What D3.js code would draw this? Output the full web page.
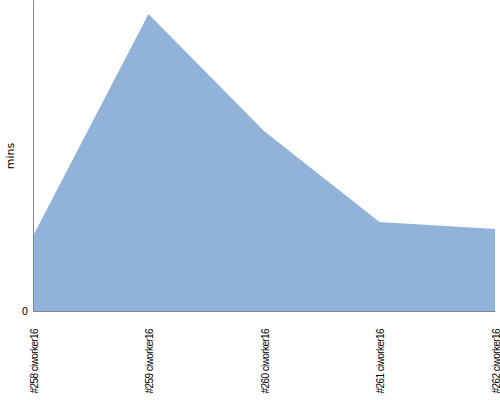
<!DOCTYPE html>
<html><head><meta charset="utf-8">
<script src="https://cdn.jsdelivr.net/npm/d3@7"></script>
<style>body{margin:0;background:#fff}svg{display:block}</style>
</head><body>
<svg id="c" width="500" height="400"></svg>
<script>
const categories = ["#258 ciworker16","#259 ciworker16","#260 ciworker16","#261 ciworker16","#262 ciworker16"];
const values = [7.5, 29.7, 18.0, 8.9, 8.2];
const yTicks = [0];
const yMax = 31.1;

const svg = d3.select("#c");
const m = {l:33, r:5, t:0, b:89};
const W = 500 - m.l - m.r, H = 400 - m.t - m.b;
const g = svg.append("g").attr("transform", `translate(${m.l},${m.t})`);
const x = d3.scalePoint().domain(categories).range([0, W]);
const y = d3.scaleLinear().domain([0, yMax]).range([H, 0]);

g.append("path").datum(values)
  .attr("fill", "#91b3da")
  .attr("d", d3.area().x((d,i)=>x(categories[i])).y0(y(0)).y1(d=>y(d)));

const ya = g.append("g").call(d3.axisLeft(y).tickValues(yTicks).tickSize(0).tickPadding(5));
ya.select(".domain").attr("stroke", "#888");
ya.selectAll("text").attr("font-family", "DejaVu Sans, sans-serif").attr("font-size", 10).attr("fill", "#000");

const xa = g.append("g").attr("transform", `translate(0,${H})`).call(d3.axisBottom(x).tickSize(0).tickPadding(0));
xa.select(".domain").attr("stroke", "#888");
xa.selectAll("text")
  .attr("font-family", "Liberation Sans Narrow, Liberation Sans, sans-serif")
  .attr("font-size", 10).attr("letter-spacing", "-0.6px").attr("fill", "#000")
  .attr("text-anchor", "end")
  .attr("transform", "translate(4,18) rotate(-90)")
  .attr("dy", 0).attr("y", 0).attr("x", 0);

svg.append("text").attr("transform", "translate(14,156) rotate(-90)")
  .attr("text-anchor", "middle").attr("font-family", "DejaVu Sans, sans-serif")
  .attr("font-size", 11).attr("fill", "#000").text("mins");
</script>
</body></html>
